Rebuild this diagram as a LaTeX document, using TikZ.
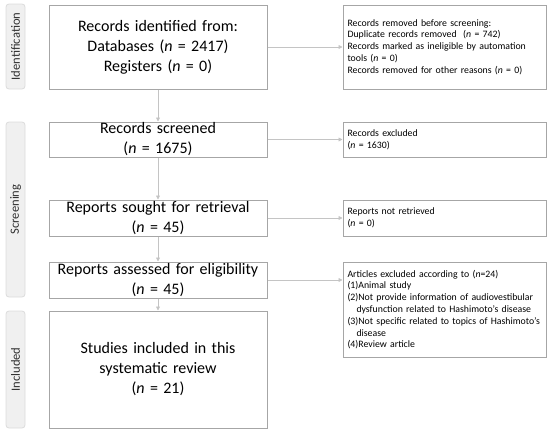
\documentclass[tikz,border=0pt]{standalone}
\usepackage{fontspec}
\setmainfont{Carlito}
\usetikzlibrary{arrows.meta}
\definecolor{boxline}{HTML}{A6A6A6}
\definecolor{conline}{HTML}{C4C4C4}
\definecolor{tabfill}{HTML}{F0F0F0}
\definecolor{tabline}{HTML}{DCDCDC}
\definecolor{tabtext}{HTML}{303030}
\tikzset{
  mainbox/.style={draw=boxline, line width=1pt, inner xsep=4pt, inner ysep=0pt,
    text width=210pt, align=center, font=\fontsize{16}{20}\selectfont},
  sidebox/.style={draw=boxline, line width=1pt, inner xsep=4.5pt, inner ysep=0pt,
    text width=194pt, align=left, font=\fontsize{9.8}{11.8}\selectfont},
  phasetab/.style={draw=tabline, fill=tabfill, line width=0.8pt, rounded corners=3pt,
    minimum width=19pt, inner sep=0pt, text=tabtext, font=\fontsize{12.6}{14}\selectfont},
  conn/.style={draw=conline, line width=0.8pt, -{Triangle[length=4pt,width=4pt]}}
}
\begin{document}
\begin{tikzpicture}[x=1pt,y=-1pt]
\useasboundingbox (0,0) rectangle (550,434);
% phase tabs
\node[phasetab, minimum height=85pt] (tid) at (15.5,46.5) {\rotatebox{90}{Identification}};
\node[phasetab, minimum height=175pt] (tsc) at (15.5,209.5) {\rotatebox{90}{Screening}};
\node[phasetab, minimum height=117pt] (tin) at (15.5,369.5) {\rotatebox{90}{Included}};
% main boxes
\node[mainbox, minimum height=84pt] (b1) at (158,47) {Records identified from:\\Databases (\textit{n} = 2417)\\Registers (\textit{n} = 0)};
\node[mainbox, minimum height=35pt] (b2) at (158,139.5) {Records screened\\(\textit{n} = 1675)};
\node[mainbox, minimum height=36pt] (b3) at (158,218) {Reports sought for retrieval\\(\textit{n} = 45)};
\node[mainbox, minimum height=36pt] (b4) at (158,280) {Reports assessed for eligibility\\(\textit{n} = 45)};
\node[mainbox, minimum height=117pt] (b5) at (158,369.5) {Studies included in this\\systematic review\\(\textit{n} = 21)};
% side boxes
\node[sidebox, minimum height=84pt] (r1) at (444.5,47) {Records removed before screening:\\Duplicate records removed\ \ (\textit{n} = 742)\\Records marked as ineligible by automation\\tools (\textit{n} = 0)\\Records removed for other reasons (\textit{n} = 0)};
\node[sidebox, minimum height=35pt] (r2) at (444.5,139.5) {Records excluded\\(\textit{n} = 1630)};
\node[sidebox, minimum height=36pt] (r3) at (444.5,218) {Reports not retrieved\\(\textit{n} = 0)};
\node[sidebox, minimum height=95pt] (r4) at (444.5,309.5) {Articles excluded according to (\textit{n}=24)\\(1)Animal study\\(2)Not provide information of audiovestibular\\\hspace*{9pt}dysfunction related to Hashimoto’s disease\\(3)Not specific related to topics of Hashimoto’s\\\hspace*{9pt}disease\\(4)Review article};
% connectors
\draw[conn] (b1.south) -- (b2.north);
\draw[conn] (b2.south) -- (b3.north);
\draw[conn] (b3.south) -- (b4.north);
\draw[conn] (b4.south) -- (b5.north);
\draw[conn] (b1.east) -- (r1.west);
\draw[conn] (b2.east) -- (r2.west);
\draw[conn] (b3.east) -- (r3.west);
\draw[conn] (b4.east) -- (b4.east -| r4.west);
\end{tikzpicture}
\end{document}
